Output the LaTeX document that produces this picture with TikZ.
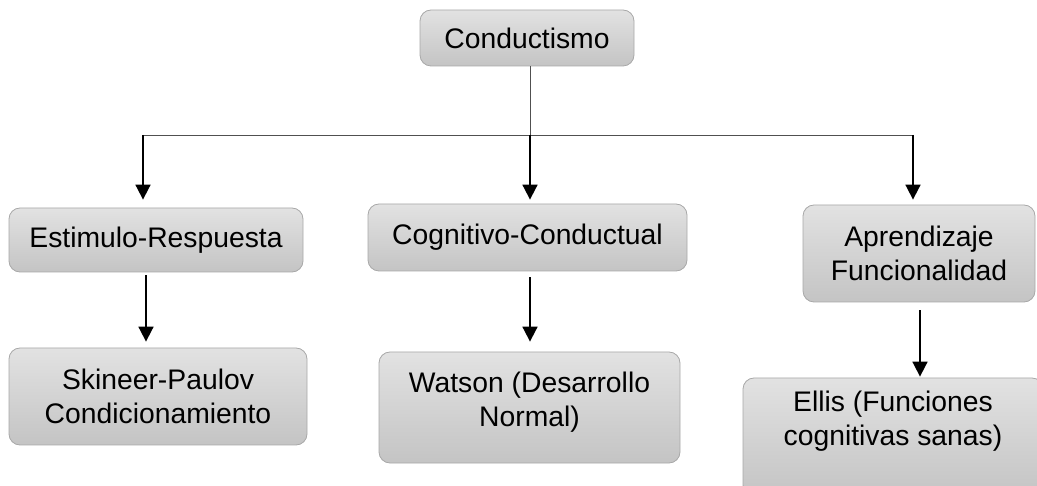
\documentclass[tikz,border=0pt]{standalone}
\usepackage{fontspec}
\setmainfont{Liberation Sans}
\usetikzlibrary{arrows.meta}
\definecolor{boxtop}{RGB}{226,226,226}
\definecolor{boxbot}{RGB}{196,196,196}
\definecolor{boxedge}{RGB}{168,168,168}
\definecolor{linkgray}{RGB}{80,80,80}
\begin{document}
\begin{tikzpicture}[x=1pt,y=-1pt,
  box/.style={draw=boxedge, line width=0.8pt, rounded corners=11pt,
    top color=boxtop, bottom color=boxbot, align=center, inner sep=0pt,
    font=\fontsize{28.3}{34}\selectfont},
  label text/.style={align=center, inner sep=0pt, font=\fontsize{28.3}{34}\selectfont},
  link/.style={draw=linkgray, line width=0.9pt},
  arrow/.style={draw=black, line width=1.8pt, -{Triangle[width=15pt,length=15pt]}}]
\useasboundingbox (0,0) rectangle (1037,486);
\clip (0,0) rectangle (1037,486);

% boxes
\node[box, minimum width=214pt, minimum height=56pt] (con) at (527,38) {Conductismo};
\node[box, minimum width=294pt, minimum height=64pt] (est) at (156,240) {Estimulo-Respuesta};
\node[box, minimum width=319pt, minimum height=67pt] (cog) at (527.5,237.5) {Cognitivo-Conductual};
\node[box, minimum width=232pt, minimum height=97pt] (apr) at (919,253.5) {Aprendizaje\\Funcionalidad};
\node[box, minimum width=298pt, minimum height=97pt] (ski) at (158,396.5) {Skineer-Paulov\\Condicionamiento};
\node[box, minimum width=301pt, minimum height=111pt] (wat) at (529.5,407.5) {};
\node[label text] (wattext) at (529.5,402) {Watson (Desarrollo\\Normal)};
\node[box, minimum width=300pt, minimum height=118pt] (ell) at (893,437) {};
\node[label text] (elltext) at (893,421) {Ellis (Funciones\\cognitivas sanas)};

% columns and bus
\coordinate (jl) at (143,135);
\coordinate (jm) at (530,135);
\coordinate (jr) at (913,135);
\coordinate (k1) at (146,0);
\coordinate (k2) at (530,0);
\coordinate (k3) at (920,0);

\draw[link] (con.south -| jm) -- (jm);
\draw[link] (jl) -- (jr);

% first level
\draw[arrow, shorten >=8pt] (jl) -- (est.north -| jl);
\draw[arrow, shorten >=4pt] (jm) -- (cog.north -| jm);
\draw[arrow, shorten >=5pt] (jr) -- (apr.north -| jr);

% second level
\draw[arrow, shorten <=3pt, shorten >=6pt] (est.south -| k1) -- (ski.north -| k1);
\draw[arrow, shorten <=6pt, shorten >=10pt] (cog.south -| k2) -- (wat.north -| k2);
\draw[arrow, shorten <=8pt, shorten >=1pt] (apr.south -| k3) -- (ell.north -| k3);
\end{tikzpicture}
\end{document}
